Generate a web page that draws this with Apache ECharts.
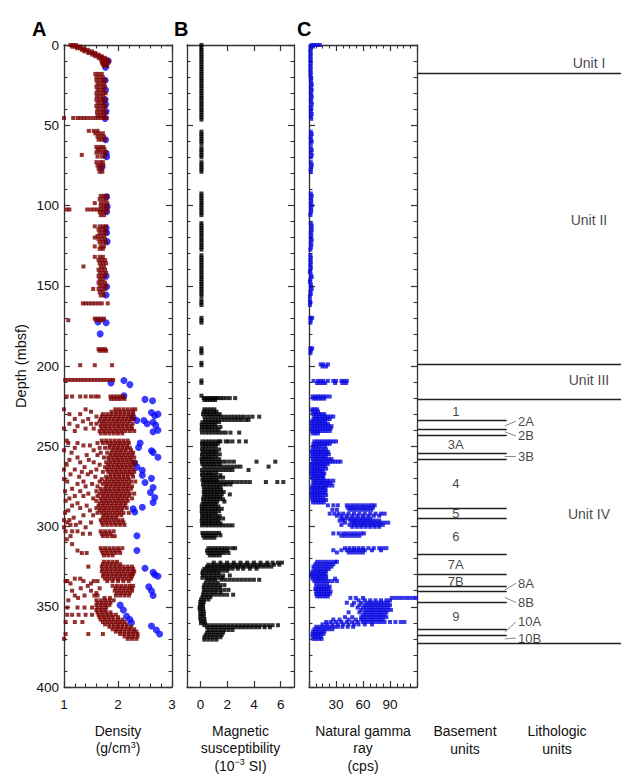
<!DOCTYPE html>
<html><head><meta charset="utf-8">
<script src="https://cdn.jsdelivr.net/npm/echarts/dist/echarts.min.js"></script>
<style>html,body{margin:0;padding:0;background:#fff}#c{width:636px;height:784px}</style>
</head><body><div id="c"></div>
<script>
// ---------------- DATA ----------------
// GRA bulk density rows: [depth (mbsf), density values (g/cm3)...]
const graRows = [
[0,1.12,1.17,1.22],[1,1.15,1.2,1.26,1.3],[2,1.24,1.3,1.36],[3,1.33,1.38,1.44],[4,1.38,1.46,1.52],
[5,1.45,1.53,1.58],[6,1.52,1.58,1.64],[7,1.58,1.66,1.7],[8,1.64,1.71,1.76],[9,1.68,1.75,1.8],
[10,1.72,1.78,1.83],[11,1.7,1.76,1.82],[12,1.72,1.78],[13,1.74,1.8],
[18,1.58,1.64,1.7],[20,1.6,1.66,1.72],[22,1.6,1.66,1.72,1.77],[24,1.62,1.68,1.74],[26,1.6,1.66,1.72,1.76],
[28,1.62,1.68,1.74],[30,1.6,1.66,1.72,1.77],[32,1.61,1.67,1.73],[34,1.6,1.66,1.72,1.77],[36,1.62,1.68,1.74],
[38,1.6,1.66,1.72,1.77],[40,1.62,1.68,1.74],[42,1.61,1.67,1.73,1.78],[44,1.62,1.68,1.74],
[45.5,1.0,1.17,1.25,1.31,1.37,1.43,1.5,1.57,1.63,1.69,1.75,1.79],
[53.5,1.46,1.55,1.62],[55,1.58,1.65,1.72],[57,1.62,1.68,1.74],[59,1.64,1.7,1.76],
[63.5,1.6,1.67,1.73],[65,1.62,1.68,1.75],[67,1.6,1.66,1.72,1.78],[68.5,1.33],[69.5,1.62,1.7,1.76],
[73,1.6,1.67,1.72],[75,1.62,1.68,1.73],[77,1.64,1.7],[79,1.66,1.71],
[94,1.68,1.74,1.8],[96,1.66,1.72,1.78],[98.5,1.57,1.68,1.74,1.8],[100.5,1.68,1.74,1.8],
[102.5,1.05,1.1,1.43,1.5,1.56,1.62,1.68,1.74,1.8],[104,1.66,1.72,1.78],[106,1.68,1.74],
[113,1.57,1.66,1.72,1.78],[115,1.64,1.7,1.76],[117,1.66,1.72,1.78],[119,1.62,1.68,1.74],[120,1.57],
[121,1.64,1.7,1.76],[123,1.66,1.72,1.78],[125.5,1.57,1.68,1.74],[127,1.66,1.72],
[132,1.57,1.66,1.72],[134,1.64,1.7,1.76],[136,1.66,1.72,1.78],[138,1.36,1.68,1.74],[140,1.64,1.7,1.76],
[142,1.66,1.72,1.78],[144,1.64,1.7,1.76],[146,1.66,1.72],[148,1.64,1.7,1.76],[150,1.66,1.72,1.78],
[152,1.54,1.64,1.7,1.76],[154,1.66,1.72],[156,1.68,1.74],
[161,1.35,1.4,1.46,1.52,1.58,1.64,1.7,1.81],
[170.5,1.57,1.62,1.68,1.74],[171.5,1.08,1.6,1.66,1.72],
[189.5,1.64,1.7,1.76],[190.5,1.66,1.72,1.78],
[199.5,1.3,1.57,1.89],
[208.7,1.02,1.08,1.14,1.2,1.26,1.32,1.38,1.44,1.5,1.56,1.62,1.68,1.74,1.8,1.86,1.91],
[219,1.05,1.15,1.3,1.4,1.5,1.58,1.64,1.86,1.92,1.98,2.04,2.1],[220.5,1.87,1.93,1.99,2.05,2.12],
[227,1.0,1.4,1.95,2.02,2.1,2.18,2.26,2.32],[228.5,1.5,1.88,1.96,2.04,2.12,2.2,2.28],
[230,1.1,1.3,1.72,1.8,1.88,1.96,2.04,2.12,2.2,2.28],[231.5,1.6,1.7,1.78,1.86,1.94,2.02,2.1,2.18,2.25],
[233,1.2,1.45,1.68,1.76,1.84,1.92,2.0,2.08,2.16,2.24,2.3],[234.5,1.35,1.66,1.74,1.82,1.9,1.98,2.06,2.14,2.22],
[236,1.1,1.5,1.6,1.7,1.78,1.86,1.94,2.02,2.1,2.18,2.27],[237.5,1.25,1.68,1.76,1.84,1.92,2.0,2.08,2.16,2.24],
[239,1.0,1.4,1.55,1.7,1.78,1.86,1.94,2.02,2.1,2.18,2.26],[240.5,1.2,1.66,1.74,1.82,1.9,1.98,2.06,2.14,2.22,2.3],
[242,1.68,1.76,1.84,1.92,2.0,2.08],
[246.5,1.05,1.7,1.78,1.86,1.94,2.02,2.1,2.18],[248,1.08,1.25,1.62,1.72,1.8,1.88,1.96,2.04,2.12,2.2],
[249.5,1.36,1.48,1.85,1.93,2.01,2.09,2.17],[251,1.2,1.66,1.76,1.84,1.92,2.0,2.08,2.16,2.22],
[252.5,1.0,1.55,1.9,1.98,2.06,2.14,2.24],[254,1.14,1.68,1.8,1.88,1.96,2.04,2.12,2.2,2.28],
[255.5,1.42,1.62,1.86,1.94,2.02,2.1,2.18,2.26],[257,1.25,1.74,1.82,1.9,1.98,2.06,2.14,2.22,2.3],
[258.5,1.1,1.46,1.84,1.92,2.0,2.08,2.16,2.24],[260,1.3,1.55,1.78,1.86,1.94,2.02,2.1,2.18,2.26,2.32],
[261.5,1.05,1.66,1.82,1.9,1.98,2.06,2.14,2.22,2.3],[263,1.38,1.76,1.84,1.92,2.0,2.08,2.16,2.24],
[264.5,1.0,1.2,1.6,1.8,1.88,1.96,2.04,2.12,2.2,2.28],[266,1.33,1.5,1.72,1.82,1.9,1.98,2.06,2.14,2.22,2.3],
[267.5,1.12,1.44,1.86,1.94,2.02,2.1,2.18,2.26],[269,1.28,1.58,1.78,1.86,1.94,2.02,2.1,2.18,2.28],
[270.5,1.0,1.7,1.8,1.88,1.96,2.04,2.12,2.2],[272,1.06,1.36,1.66,1.76,1.84,1.92,2.0,2.08,2.16,2.24,2.32],
[273.5,1.25,1.52,1.72,1.8,1.88,1.96,2.04,2.12,2.2],[275,1.4,1.62,1.78,1.86,1.94,2.02,2.1,2.18,2.26],
[276.5,1.15,1.68,1.76,1.84,1.92,2.0,2.08,2.16,2.24],[278,1.02,1.3,1.6,1.7,1.78,1.86,1.94,2.02,2.1,2.18],
[279.5,1.45,1.66,1.74,1.82,1.9,1.98,2.06,2.14,2.22,2.3],[281,1.2,1.36,1.62,1.72,1.8,1.88,1.96,2.04,2.12,2.2],
[282.5,1.1,1.54,1.68,1.76,1.84,1.92,2.0,2.08,2.16,2.26],[284,1.03,1.6,1.7,1.78,1.86,1.94,2.02,2.1,2.18],
[285.5,1.25,1.66,1.74,1.82,1.9,1.98,2.06,2.14],[287,1.15,1.42,1.64,1.72,1.8,1.88,1.96,2.04,2.12],
[288.5,1.3,1.6,1.68,1.76,1.84,1.92,2.0,2.08,2.16],[290,1.08,1.48,1.66,1.74,1.82,1.9,1.98,2.06],
[291.5,1.02,1.62,1.7,1.78,1.86,1.94,2.02,2.1,2.2],[293,1.36,1.54,1.74,1.82,1.9,1.98,2.06],
[294.5,1.18,1.72,1.8,1.88,1.96],[296,1.0,1.1,1.68,1.76,1.84,1.92,2.0,2.08],
[297.5,1.06,1.3,1.5,1.7,1.78,1.86,1.94,2.02,2.1],[299,1.12,1.22,1.72,1.8,1.88,1.96,2.04,2.12],
[300.5,1.0,1.4],[303,1.03,1.15,1.25,1.68,1.76,1.84,1.92],[304.5,1.35,1.48,1.7,1.78,1.86],
[306,1.12,1.72,1.8,1.88,1.94],[308,1.05],[311,1.15],
[313.5,1.68,1.76,1.84,1.92,2.0,2.08],[315,1.25,1.7,1.78,1.86,1.94,2.02],
[316.5,1.33,1.42,1.72,1.8,1.88,1.96,2.04],[318,1.74,1.82,1.9],
[322,1.74,1.82,1.9,1.98],[323.5,1.72,1.8,1.88,1.96,2.04],[325,1.45,1.7,1.78,1.86,1.94,2.02,2.1,2.18,2.26],
[326.5,1.72,1.8,1.88,1.96,2.04,2.12,2.2,2.28],[328,1.7,1.78,1.86,1.94,2.02,2.1,2.18,2.26,2.3],
[329.5,1.74,1.82,1.9,1.98,2.06,2.14,2.22,2.28],[331,1.72,1.8,1.88,1.96,2.04,2.12,2.2,2.26],
[332.5,1.2,1.3,1.76,1.84,1.92,2.0,2.08,2.16,2.24],[334,1.03,1.06,1.36,1.55,1.62,1.8,1.9,2.0,2.1,2.2],
[335.5,1.12,1.5],[337,1.44,1.9,1.98,2.06,2.14,2.22,2.28],[338.5,1.31,1.66,1.96,2.04,2.12,2.2,2.26],
[340,1.15,1.5,1.94,2.02,2.1,2.18,2.26],[341.5,1.6,1.98,2.06,2.14,2.22],
[343,1.2,1.38,1.56,1.62,1.96,2.04,2.12,2.2],[344.5,1.26,1.75,1.85],
[346,1.08,1.6,1.68,1.76,1.84,1.92],[347.5,1.62,1.7,1.78,1.86],[349,1.6,1.68,1.76,1.84],
[350.5,1.06,1.25,1.38,1.52,1.62,1.7,1.78],[352,1.6,1.68,1.76],[353.5,1.62,1.7,1.78,1.86],
[355,1.06,1.15,1.27,1.4,1.52,1.64,1.72,1.8,1.88,1.96],[356.5,1.66,1.74,1.82,1.9,2.0],
[358,1.68,1.76,1.84,1.92,2.0,2.08],[359.5,1.03,1.2,1.34,1.72,1.8,1.88,1.96,2.04,2.12],
[361,1.76,1.84,1.92,2.0,2.08,2.16],[362.5,1.84,1.92,2.0,2.08,2.16,2.24],
[364,1.9,1.98,2.06,2.14,2.22,2.3],[365.5,1.96,2.04,2.12,2.2,2.28,2.34],
[367,1.03,1.45,1.72,2.04,2.12,2.2,2.28,2.36],[368.5,2.12,2.2,2.28,2.36],[370,1.0,2.18,2.26,2.34]
];
// Discrete (MAD) density samples: [density, depth]
const madPoints = [
[1.82,10],[1.77,13.9],[1.76,22],[1.77,28],[1.76,34],[1.77,37],[1.78,41.5],[1.76,45.7],[1.77,59],
[1.78,67.5],[1.79,69.6],[1.7,76.2],[1.79,94.5],[1.8,100.7],[1.79,103.9],[1.78,114],[1.79,117],
[1.8,122.5],[1.78,144],[1.79,150.6],[1.78,155.8],[1.63,172.6],[1.78,173],[1.67,180],
[1.87,210.6],[2.11,209],[2.22,211.6],[2.11,218.6],[2.5,220.8],[2.64,221.7],
[2.28,232],[2.35,234],[2.48,234],[2.54,236],[2.62,229],[2.68,231],[2.74,230],[2.65,235],[2.7,237],[2.74,240],[2.65,241],
[2.41,248],[2.38,250.8],[2.62,252.8],[2.65,253.8],[2.74,256.8],[2.31,260.5],[2.35,263],[2.45,265],[2.45,268],
[2.5,272.6],[2.62,270],[2.65,275.7],[2.6,278.8],[2.68,282],[2.65,285],[2.28,289],[2.31,291],[2.45,288],
[2.35,305.8],[2.35,315],[2.5,326],[2.65,328.6],[2.68,330],[2.74,331],[2.57,337.6],[2.62,340],[2.65,343],
[2.04,349],[2.1,352],[2.16,356],[2.22,358],[2.25,360],[2.62,362],[2.71,364.5],[2.77,367]
];
// Magnetic susceptibility: near-constant upper cores (value, depths) and rows [depth, values (1e-3 SI)...]
const magUpperValue = 0.08;
const magUpperDepths = [0,1.5,3,4.5,6,7.5,9,10.5,12,13.5,15,16.5,18,19.5,21,22.5,24,25.5,27,28.5,30,31.5,33,34.5,36,37.5,39,40.5,42,43.5,45,46.5,
54,55.5,57,58.5,60,61.5,64,65.5,67,68.5,70,73,74.5,76,77.5,79,92.5,94,95.5,97,98.5,100,101.5,103,104.5,106,
111,112.5,114,115.5,117,118.5,120,121.5,123,124.5,126,127.5,131,132.5,134,135.5,137,138.5,140,141.5,143,144.5,146,147.5,
149,150.5,152,153.5,155,156.5,159,160.5,162,170,171.5,173,189,190.5,192,198,199.5,209,210.5,218.5];
const magRows = [
[220,0.25,0.4,0.55,0.7,0.85,1.0,1.15,1.3,1.5,1.7,1.95,2.2,2.6],[221.2,0.3,0.5,0.7,0.9,1.1],
[227,0.3,0.55,0.8,1.05],[228.5,0.25,0.5,0.75,1.0,1.2],[230,0.2,0.45,0.7,0.95,1.2,1.45],
[231.6,0.3,0.55,0.8,1.05,1.3,1.55,1.8,2.05,2.3,2.55,2.8,3.05,3.3,3.6,3.9,4.4],
[233.6,0.35,0.6,0.85,1.1,1.35,1.6,1.85,2.1,2.35,2.6,2.85,3.1,3.4,3.6],
[235,0.15,0.4,0.65,0.9,1.15,1.4],[236.5,0.1,0.35,0.6,0.85,1.1],[238,0.12,0.4,0.65,0.9,1.2,1.5],
[239.5,0.1,0.35,0.6,0.85,1.1,1.35],[241.5,0.12,0.4,0.65,0.9,1.15,1.4,1.65,1.9,2.25,2.9],
[247,0.15,0.4,0.65,0.9,1.15,1.38,1.5,1.9,2.1,2.4,2.9,3.4],[248.5,0.12,0.35,0.6,0.85,1.1,1.3],
[250,0.15,0.4,0.65,0.9,1.15],[252,0.12,0.35,0.6,0.85,1.1,1.4],[253.5,0.2,0.45,0.7,0.95,1.2],
[255,0.12,0.4,0.65,0.9,1.15,1.45],[256.5,0.15,0.4,0.65,0.9,1.2],[258,0.1,0.35,0.6,0.85,1.1,1.4],
[259.6,0.12,0.4,0.65,0.9,1.15,1.4,1.65,1.9,2.2,2.5,4.2,5.6],[261,0.15,0.4,0.65,0.9,1.15,1.45],
[262.7,0.25,0.5,0.75,1.0,1.25,1.5,1.75,2.0,2.25,2.5,2.75,3.0,5.1],
[264.8,0.12,0.4,0.65,0.9,1.15,1.4,1.65,1.9,2.15,2.4,3.6],[266.5,0.15,0.4,0.65,0.9,1.2],
[268,0.12,0.4,0.65,0.9,1.15,1.5],[269.5,0.2,0.45,0.7,0.95,1.2,1.45,1.7],[271,0.15,0.4,0.65,0.9,1.2],
[272.3,0.25,0.5,0.75,1.0,1.25,1.5,1.75,2.0,2.25,2.5,2.8,3.1,3.4,3.7,4.9,5.75,6.2],
[273.8,0.2,0.45,0.7,0.95,1.2,1.45,1.7,1.95,2.25],[275.5,0.25,0.5,0.75,1.0,1.25,1.5],
[277,0.3,0.55,0.8,1.05,1.3,1.55],[278.5,0.25,0.5,0.75,1.0,1.25,1.5,1.75],[280,0.3,0.55,0.8,1.05,1.3,1.6,2.2],
[281.5,0.25,0.5,0.75,1.0,1.25,1.5],[283,0.2,0.45,0.7,0.95,1.2,1.45,1.7],[284.5,0.25,0.5,0.75,1.0,1.25,1.8],
[286,0.15,0.4,0.65,0.9,1.15],[287.5,0.1,0.35,0.6,0.85,1.1,1.35],[289,0.12,0.35,0.6,0.85,1.1,1.3,1.6],
[290.5,0.1,0.35,0.6,0.85,1.1,1.4],[292,0.12,0.4,0.65,0.9,1.15],[293.5,0.15,0.4,0.65,0.9,1.2,1.45],
[295,0.12,0.4,0.65,0.9,1.15,1.4,1.7],[296.5,0.1,0.35,0.6,0.85,1.1,1.35],[298,0.15,0.4,0.65,0.9,1.2,1.5],
[299.3,0.12,0.4,0.65,0.9,1.15,1.4,1.65,1.9,2.15,2.4],
[304,0.15,0.4,0.65,0.9,1.15,1.4],[305.5,0.2,0.45,0.7,0.95,1.2,1.5],[307,0.3,0.55,0.8,1.05],
[313.5,0.6,0.85,1.1,1.35,1.6,1.85,2.1,2.4,2.6],[315,0.5,0.75,1.0,1.25,1.5,1.75,2.0],
[316.5,0.55,0.8,1.05,1.3,1.55,1.8,2.1],[318,0.7,0.95,1.2,1.45],
[322.5,1.0,1.5,2.0,2.5,3.0,3.5,4.0,4.5,5.0,5.4,5.8,6.1],
[323.8,0.6,0.9,1.2,1.5,1.8,2.1,2.4,2.7,3.0,3.3,3.6,3.9,4.2,4.5,4.8,5.1,5.5,5.9],
[325,0.5,0.8,1.1,1.4,1.7,2.0,2.3,2.6,2.9,3.2,3.5,3.8,4.1,4.4,4.7,5.0,5.3],
[326.3,0.3,0.6,0.9,1.2,1.5,1.8,2.1,2.4,2.8,3.2,3.7,4.2],[327.6,0.2,0.5,0.8,1.1,1.4,1.7,2.0],
[329,0.15,0.45,0.75,1.05,1.35],[330.5,0.2,0.5,0.8,1.1,1.4,1.7,2.2],[332,0.15,0.45,0.75,1.05,1.35,1.65],
[333.2,0.5,0.8,1.1,1.6,1.9,2.2,2.5,2.8,3.1,3.4,3.7,4.0,4.4],[335,0.4,0.7,1.0,1.3],
[336.5,0.3,0.6,0.9,1.2,1.5,1.8],[338,0.25,0.55,0.85,1.15,1.45],[339.5,0.3,0.6,0.9,1.2,1.5,1.8,2.1],
[341,0.25,0.55,0.85,1.15,1.5],[342.5,0.2,0.5,0.8,1.1,1.4,1.7,2.0,2.45],[344,0.15,0.45,0.75],
[345.5,0.05,0.3,0.6],[347,0.0,0.25],[348.5,0.0,0.2],[350,-0.05,0.2],[351.5,-0.05,0.2],[353,0.0,0.25],
[354.5,0.0,0.25],[356,0.0,0.25],[357.5,0.0,0.3],[359,0.05,0.3],[360.3,0.05,0.35],
[361.5,0.3,0.6,0.9,1.2,1.5,1.8,2.1,2.4,2.7,3.0,3.3,3.6,3.9,4.2,4.5,4.8,5.1,5.4,5.8],
[362.8,0.5,0.8,1.1,1.4,1.7,2.0,2.3,2.6,2.9,3.2,3.5,3.8,4.1,4.4,4.8,5.2],
[364.5,0.6,0.9,1.2,1.5,1.8,2.1,2.4],[366,0.5,0.8,1.1,1.4,1.7],[367.5,0.4,0.7,1.0,1.3,1.6],
[369,0.3,0.6,0.9,1.2,1.5],[370.5,0.3,0.6,0.9,1.2]
];
// Natural gamma ray rows: [depth, values (cps)...]
const gammaRows = [
[0,3,6,9,12],[1,2,4.5],[2.5,2],[4,1.5],[5.5,2],[7,1.5],[8.5,2],[10,1.5],[11.5,2],
[13,1.5],[14.5,2],[16,1.5],[17.5,2],[19,1.5],[20.5,2.5],[22,2],[23.5,2.5],[25,3],
[26.5,2],[28,3],[29.5,2],[31,2.5],[32.5,3],[34,2],[35.5,2.5],[37,3],[38.5,2],
[40,2.5],[41.5,2],[43,3],[44.5,2],[46,2.5],
[54,2],[55.5,3],[57,2],[58.5,2],[60,3],[61.5,2],
[64,2],[65.5,3],[67,2],[68.5,3],[70,2],
[73,2],[74.5,3],[76,2.5],[77.5,2],[79,2],
[92.5,2],[94,3],[95.5,2],[97,2.5],[98.5,2],[100,3],[101.5,2],[103,2.5],[104.5,2],[106,1.5],
[111,2],[112.5,3],[114,2.5],[115.5,3],[117,2],[118.5,2.5],[120,2],[121.5,3],[123,2],
[124.5,2.5],[126,2],[127.5,1.5],
[131,1.5],[132.5,2],[134,1.5],[135.5,2],[137,1.5],[138.5,2],[140,1.5],[141.5,1],[143,2],
[144.5,3],[146,1.5],[147.5,1],[149,2],[150.5,2],[152,3],[153.5,1.5],[155,2],[156.5,1],
[159,1],[160.5,1.5],[162,1],[170,1.5,3.5],[171.5,2],[173,1.5],[189,1.5,3.5],[190.5,2],[192,1.5],
[199,13,16,21],[200.3,15,19],
[209.3,5,10,13,16,21,27,30,36,39,42],[210.6,9,12,15,18,29,37,41],
[219,4,7,10,13,16,19,23],[220.3,5,8,11,14,17],
[227,3.5,6,9],[228.5,4,7,10],[230,5,8,11,14,17],[231.5,6,9,12,15,18,21,24,27],[233,5,8,11,14,17,20,23],
[234.5,3,6,9,12,15,18],[236,3,6,9,12,15,18,21],[237.5,3.5,6.5,9.5,12.5,15.5,18.5,22,25],
[239,3,6,9,12,15,18,21,24],[240.5,3.5,6.5,9.5,12.5,15.5,19,23],[242,4,7,10],
[247,6,9,12,15,18,21,24,27,30],[248.5,5,8,11,14,17,20,23],[250,5,8,11,14,18],
[252,4,7,10,13,16,19],[253.5,3,6,9,12,15,18,21],[255,4,7,10,13,16,19,22],[256.5,3.5,6.5,9.5,12.5,15.5,18.5],
[258,4,7,10,13,16,19,22,25],[259.6,5,8,11,14,17,20,23,26,29,32,35],[261,3,6,9,12,15,18,21],
[262.5,3,6,9,12,15,18],[264,3.5,6.5,9.5,12.5,15.5,19],[265.5,3,6,9,12,15],[267,3,6,9,12,15,17],
[268.5,3.5,6.5,9.5,12.5,15.5],[270,4,7,10,13,16],[271.5,5,8,11,14,17,20,23,27],[273,5,8,11,14,17,20,24],
[274.5,4,7,10,13,16,19,22,26],[276,3,6,9,12,15,18],[277.5,3.5,6.5,9.5,12.5,15.5,18.5],[279,3,6,9,12,15,18],
[280.5,3,6,9,12,15,19],[282,3.5,6.5,9.5,12.5,16],[283.5,4,7,10,13,16,19],[285,4.5,7.5,10.5,13.5,16.5],
[286.8,21,27,32,42,46,50,54,58,62,66,70,73],[288.3,43,47,51,55,59,63,67,71],[289.6,26,31,45,49,53,57,61,65,69],
[292,23,28,33,38,44,50,56,62,68,74,80,84],[293.3,31,36,42,48,54,60,66,72,78],
[295,36,40,44,48,52,56,60,64,68],[296.3,34,38,46,50,54,58,62,66,70,74,78],
[297.6,40,48,52,56,60,64,68,72,76,80,84,88],[299,36,45,50,54,58,62,66,70,74,78,82],[300.2,48,53,58,63,68,73,78],
[304.3,27,33,38,42,46,50,54,58,61],[305.8,36,40,44,48,52,56],
[313.5,40,45,50,55,60,66,72,78,82,86],[314.8,27,36,42,46,50,54,58,62,70,80],[316.2,31,44,48,52,56,60],
[322,9,13,17,21,25,29,31],[323.5,7,11,15,19,23,27],[325,5,9,13,17,21,25],[326.5,6,10,14,18,22],
[328,4,7,10,13,16,19],[329.5,3,6,9,12,15,18],[331,3,6,9,12,15,19],[332.5,4,7,10,13,16,19,29],
[334,6,10,14,18,22,26,31],[335.5,8,12,16,20],[337.5,8,11,14,17,20,23],[339,7,10,13,16,19,22],
[340.5,8,11,14,17,20,24],[342,8,11,14,17,20,23],[343.5,9,12,15,18,21],
[344.5,46,52,60,92,96,100,104,108,112,116,119],[346,55,62,68,74,80,86,90],
[347.5,42,50,58,64,68,72,76,80,84,88],[349,48,56,62,66,70,74,78,82,86,90],
[350.5,54,60,64,68,72,76,80,84,88],[352,58,63,67,71,75,79,83,87,91],[353.5,44,56,62,66,70,74,78,82,86],
[355,60,64,68,72,76,80,84],[356.5,40,48,58,62,66,70,74,78,82,86],[358,27,34,44,52,58,62,66,70,74,78,82],
[359.5,19,24,30,36,42,48,54,60,64,68,72,76,80,84,90,96,102,106],[361,15,20,26,32,38,44,50,55,62,70],
[362.5,8,12,16,20,24,28,32,37,43,49],[364,6,10,14,18,22,26],
[365.5,4.5,8,11,14,17],[367,4,7,10,13,16],[368.5,4,7,10,13],[370,5,8,11,14]
];
// Unit boundaries and labels
const lithoBounds = [17.6, 199, 220.7, 372.8];
const lithoLabels = [['Unit I',11],['Unit II',109],['Unit III',209],['Unit IV',292]];
const basementBounds = [234, 239.4, 243, 254.4, 258, 288.7, 295, 317, 329.8, 337.5, 340.6, 346.9, 364, 368];
const basementLabels = [['1',228.5],['3A',248.6],['4',273],['5',292],['6',306],['7A',323.6],['7B',334],['9',356]];
// side labels: [text, label depth, leader start depth]
const basementSideLabels = [['2A',234.3,237.4],['2B',243.6,241],['3B',256.5,256.5],['8A',335.4,339.6],
  ['8B',347.4,344.1],['10A',359.5,365.8],['10B',369.5,370]];
const densityTicks = [1,2,3], magTicks = [0,2,4,6], gammaTicks = [30,60,90];

// ---------------- CHART ----------------
const FONT = 'Liberation Sans, Arial, Helvetica, sans-serif';
const AX = '#333';
function rowsToPts(rows){const out=[];rows.forEach(r=>{for(let i=1;i<r.length;i++)out.push([r[i],r[0]]);});return out;}
function depthAxis(grid,pos,labels,name){
  return {type:'value',gridIndex:grid,position:pos,inverse:true,min:0,max:400,interval:50,
    name:name||'',nameLocation:'middle',nameGap:36,nameRotate:90,
    nameTextStyle:{fontFamily:FONT,fontSize:14.5,color:'#111'},
    axisLine:{show:true,onZero:false,lineStyle:{color:AX,width:1.3}},
    axisTick:{show:true,inside:true,length:6,lineStyle:{color:AX,width:1.2}},
    minorTick:{show:true,splitNumber:5,length:3.5,lineStyle:{color:AX,width:1.1}},
    axisLabel:{show:labels,margin:5,fontFamily:FONT,fontSize:13.5,color:'#111'},
    splitLine:{show:false},minorSplitLine:{show:false}};
}
function valAxis(grid,pos,o){
  const ax={type:'value',gridIndex:grid,position:pos,min:o.min,max:o.max,
    axisLine:{show:true,onZero:false,lineStyle:{color:AX,width:1.3}},
    axisTick:{show:true,inside:true,length:6,lineStyle:{color:AX,width:1.2}},
    minorTick:{show:!!o.minor,splitNumber:o.minor||5,length:3.5,lineStyle:{color:AX,width:1.1}},
    axisLabel:{show:pos==='bottom',margin:10,fontFamily:FONT,fontSize:13.5,color:'#111'},
    splitLine:{show:false},minorSplitLine:{show:false}};
  if(o.interval){ax.interval=o.interval;}
  if(o.ticks){ax.axisTick.customValues=o.ticks;ax.axisLabel.customValues=o.ticks;}
  if(pos==='bottom'&&o.name){
    ax.name=o.name;ax.nameLocation='middle';ax.nameGap=35;
    ax.nameTextStyle={fontFamily:FONT,fontSize:14,lineHeight:17.5,color:'#111',
      rich:{sup:{fontFamily:FONT,fontSize:9,color:'#111',padding:[0,0,7,0]}}};
  }
  return ax;
}
const grids=[
  {left:64,top:45,width:108,height:642},
  {left:187,top:45,width:107,height:642},
  {left:309,top:45,width:108,height:642},
  {left:417,top:45,width:204,height:642}
];
const aOpt={min:1,max:3,interval:1,minor:5,ticks:densityTicks,name:'Density\n(g/cm{sup|3})'};
const bOpt={min:-1,max:7,ticks:magTicks,name:'Magnetic\nsusceptibility\n(10{sup|\u22123} SI)'};
const cOpt={min:0,max:120,interval:30,minor:4,ticks:null,name:'Natural gamma\nray\n(cps)'};
const xAxes=[valAxis(0,'bottom',aOpt),valAxis(0,'top',aOpt),valAxis(1,'bottom',bOpt),valAxis(1,'top',bOpt),
  valAxis(2,'bottom',cOpt),valAxis(2,'top',cOpt),
  {type:'value',gridIndex:3,min:0,max:100,show:false}];
xAxes[4].axisLabel.formatter=v=>gammaTicks.indexOf(v)>=0?String(v):'';
const yAxes=[depthAxis(0,'left',true,'Depth (mbsf)'),depthAxis(0,'right',false),depthAxis(1,'left',false),depthAxis(1,'right',false),
  depthAxis(2,'left',false),depthAxis(2,'right',false),{type:'value',gridIndex:3,min:0,max:400,inverse:true,show:false}];

const lineData=[];
lithoBounds.forEach(d=>lineData.push({coords:[[0,d],[100,d]]}));
basementBounds.forEach(d=>lineData.push({coords:[[0,d],[44,d]]}));
const leaderData=basementSideLabels.map(s=>({coords:[[43,s[2]],[48.5,s[1]]]}));
const textItems=[];
lithoLabels.forEach(l=>textItems.push({value:[84.3,l[1]],name:l[0],label:{position:'inside',fontSize:14}}));
basementLabels.forEach(l=>textItems.push({value:[19,l[1]],name:l[0],label:{position:'inside',fontSize:13}}));
basementSideLabels.forEach(l=>textItems.push({value:[49,l[1]],name:l[0],label:{position:'right',distance:1,fontSize:13}}));

const chart=echarts.init(document.getElementById('c'),null,{renderer:'svg',width:636,height:784});
chart.setOption({
  animation:false,backgroundColor:'#fff',
  grid:grids.map(g=>Object.assign({outerBoundsMode:'none',containLabel:false},g)),
  xAxis:xAxes,yAxis:yAxes,
  graphic:[
    {type:'text',x:32,y:19,style:{text:'A',fontFamily:FONT,fontWeight:'bold',fontSize:20,fill:'#000'}},
    {type:'text',x:174,y:19,style:{text:'B',fontFamily:FONT,fontWeight:'bold',fontSize:20,fill:'#000'}},
    {type:'text',x:297,y:19,style:{text:'C',fontFamily:FONT,fontWeight:'bold',fontSize:20,fill:'#000'}},
    {type:'text',x:465,y:722,style:{text:'Basement\nunits',align:'center',fontFamily:FONT,fontSize:14,lineHeight:18.3,fill:'#111'}},
    {type:'text',x:557,y:722,style:{text:'Lithologic\nunits',align:'center',fontFamily:FONT,fontSize:14,lineHeight:18.3,fill:'#111'}}
  ],
  series:[
    {type:'scatter',xAxisIndex:0,yAxisIndex:0,data:madPoints,symbol:'circle',symbolSize:7,
      itemStyle:{color:'#0a0aff'},silent:true,z:2},
    {type:'scatter',xAxisIndex:0,yAxisIndex:0,data:rowsToPts(graRows),symbol:'rect',symbolSize:4,
      itemStyle:{color:'#7a0000'},silent:true,z:3},
    {type:'scatter',xAxisIndex:2,yAxisIndex:2,data:magUpperDepths.map(d=>[magUpperValue,d]).concat(rowsToPts(magRows)),
      symbol:'rect',symbolSize:4,itemStyle:{color:'#000'},silent:true},
    {type:'scatter',xAxisIndex:4,yAxisIndex:4,data:rowsToPts(gammaRows),symbol:'rect',symbolSize:4,
      itemStyle:{color:'#0a0ae0'},silent:true},
    {type:'lines',coordinateSystem:'cartesian2d',xAxisIndex:6,yAxisIndex:6,data:lineData,
      lineStyle:{color:'#222',width:1.3,opacity:1},silent:true},
    {type:'lines',coordinateSystem:'cartesian2d',xAxisIndex:6,yAxisIndex:6,data:leaderData,
      lineStyle:{color:'#555',width:0.7,opacity:1},silent:true},
    {type:'scatter',xAxisIndex:6,yAxisIndex:6,data:textItems,symbolSize:0,silent:true,
      label:{show:true,formatter:'{b}',color:'#111',fontFamily:FONT}}
  ]
});
</script></body></html>
